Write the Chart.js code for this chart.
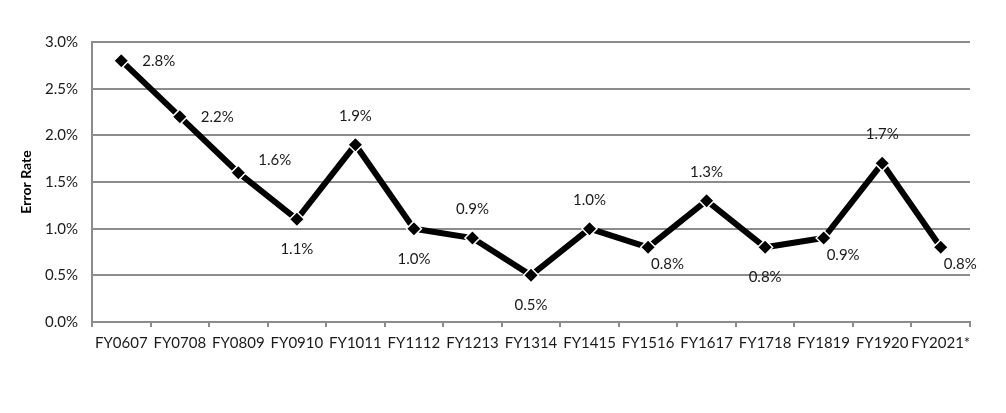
<!DOCTYPE html>
<html>
<head>
<meta charset="utf-8">
<script src="https://cdn.jsdelivr.net/npm/chart.js@4/dist/chart.umd.min.js"></script>
<style>
  html, body { margin: 0; padding: 0; background: #fff; }
  #wrap { width: 1006px; height: 413px; }
</style>
</head>
<body>
<div id="wrap"><canvas id="error-rate-chart" width="1006" height="413"></canvas></div>
<script>
const errorRateChart = document.getElementById("error-rate-chart");

const years = ["FY0607", "FY0708", "FY0809", "FY0910", "FY1011", "FY1112", "FY1213", "FY1314",
  "FY1415", "FY1516", "FY1617", "FY1718", "FY1819", "FY1920", "FY2021*"];
const errorRates = [2.8, 2.2, 1.6, 1.1, 1.9, 1.0, 0.9, 0.5, 1.0, 0.8, 1.3, 0.8, 0.9, 1.7, 0.8];
const yTicks = [0, 0.5, 1.0, 1.5, 2.0, 2.5, 3.0];

// where each value label sits around its point
const labelSpots = ["right", "right", "upRight", "below", "above", "below", "above", "below",
  "above", "downRight", "above", "below", "downRight", "above", "downRight"];

const FONT = "Lato, 'Open Sans', sans-serif";
const GRID = "#8c8c8c";

const valueLabels = {
  id: "valueLabels",
  afterDatasetsDraw(chart) {
    const ctx = chart.ctx;
    const meta = chart.getDatasetMeta(0);
    ctx.save();
    ctx.font = "15px " + FONT;
    ctx.fillStyle = "#1a1a1a";
    ctx.textBaseline = "middle";
    meta.data.forEach((pt, i) => {
      const txt = errorRates[i].toFixed(1) + "%";
      let x = pt.x, y = pt.y;
      switch (labelSpots[i]) {
        case "right":     ctx.textAlign = "left";   x += 21; break;
        case "upRight":   ctx.textAlign = "left";   x += 20; y -= 13; break;
        case "downRight": ctx.textAlign = "left";   x += 3;  y += 17; break;
        case "above":     ctx.textAlign = "center"; y -= 29; break;
        case "below":     ctx.textAlign = "center"; y += 30; break;
      }
      ctx.fillText(txt, x, y);
    });
    ctx.restore();
  }
};

new Chart(errorRateChart, {
  type: "line",
  data: {
    labels: years,
    datasets: [
      {
        label: "Error Rate",
        data: errorRates,
        borderColor: "#000",
        borderWidth: 6,
        tension: 0,
        pointStyle: "rectRot",
        pointRadius: 7.5,
        pointBackgroundColor: "#000",
        pointBorderColor: "#fff",
        pointBorderWidth: 1.5,
      },
    ],
  },
  options: {
    responsive: false,
    animation: false,
    layout: { padding: { top: 42, right: 36, bottom: 0, left: 0 } },
    plugins: {
      legend: { display: false },
      tooltip: { enabled: false },
    },
    scales: {
      x: {
        offset: true,
        grid: {
          offset: true,
          drawOnChartArea: false,
          drawTicks: true,
          tickLength: 5,
          color: GRID,
          lineWidth: 2,
        },
        border: { color: GRID, width: 2 },
        ticks: {
          color: "#1a1a1a",
          font: { family: FONT, size: 15 },
          padding: 7,
          maxRotation: 0,
          autoSkip: false,
        },
        afterFit: (scale) => { scale.height = 91; },
      },
      y: {
        min: 0,
        max: 3.0,
        afterBuildTicks: (scale) => { scale.ticks = yTicks.map(v => ({ value: v })); },
        grid: { color: GRID, lineWidth: 2, drawTicks: false },
        border: { color: GRID, width: 2 },
        ticks: {
          color: "#1a1a1a",
          font: { family: FONT, size: 15 },
          padding: 14,
          callback: (v) => Number(v).toFixed(1) + "%",
        },
        title: {
          display: true,
          text: "Error Rate",
          color: "#000",
          font: { family: FONT, size: 14, weight: "bold" },
          padding: { top: 18, bottom: 0 },
        },
        afterFit: (scale) => { scale.width = 92; },
      },
    },
  },
  plugins: [valueLabels],
});
</script>
</body>
</html>
